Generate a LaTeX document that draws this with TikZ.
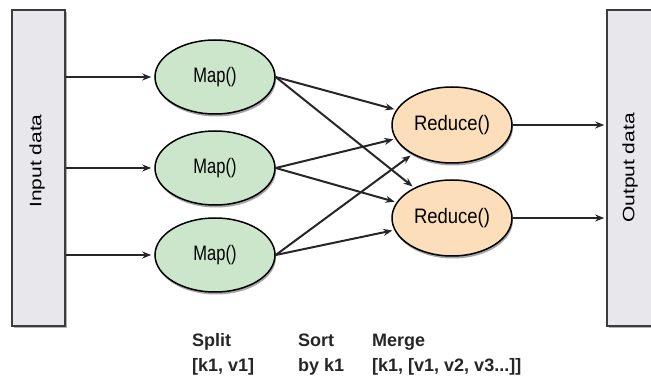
\documentclass[tikz,border=0pt]{standalone}
\usepackage{fontspec}
\setmainfont{Liberation Sans}
\usetikzlibrary{shapes.geometric,arrows.meta,shadows}
\definecolor{boxfill}{RGB}{232,232,236}
\definecolor{boxline}{RGB}{60,60,60}
\definecolor{mapfill}{RGB}{204,230,204}
\definecolor{redfill}{RGB}{253,222,186}
\tikzset{
  databox/.style={draw=boxline, line width=1.6pt, fill=boxfill,
    drop shadow={shadow xshift=2pt, shadow yshift=-2pt, fill=black!30, opacity=1}},
  mapnode/.style={ellipse, draw=black, line width=1.5pt, fill=mapfill,
    minimum width=120pt, minimum height=74pt, inner sep=0pt,
    drop shadow={shadow xshift=1pt, shadow yshift=-2.5pt, fill=black!35, opacity=1},
    font=\fontsize{16.5}{18}\selectfont},
  rednode/.style={mapnode, fill=redfill, minimum height=76pt},
  conn/.style={draw=black!85, line width=2pt, -{Stealth[length=9pt,width=7pt]}, shorten >=2pt},
  lbl/.style={anchor=base west, inner sep=0pt, font=\bfseries\fontsize{18}{20}\selectfont, text=black!85},
}
\begin{document}
\begin{tikzpicture}[x=1pt,y=-1pt]
\useasboundingbox (0,0) rectangle (651,379);
\clip (0,0) rectangle (651,379);
\fill[white] (0,0) rectangle (651,379);
% data boxes
\node[databox, minimum width=53pt, minimum height=316pt, inner sep=0pt] (in) at (38.5,168) {};
\node[databox, minimum width=53pt, minimum height=316pt, inner sep=0pt] (out) at (633.5,168) {};
\node[rotate=90, inner sep=0pt, font=\fontsize{16.5}{18}\selectfont] (intext) at (37,161) {\scalebox{1.27}[1]{Input data}};
\node[rotate=90, inner sep=0pt, font=\fontsize{16.5}{18}\selectfont] (outtext) at (630,168) {\scalebox{1.27}[1]{Output data}};
% map nodes
\node[mapnode] (m1) at (215,77) {\scalebox{1}[1.27]{Map()}};
\node[mapnode] (m2) at (215,168) {\scalebox{1}[1.27]{Map()}};
\node[mapnode] (m3) at (215,255) {\scalebox{1}[1.27]{Map()}};
% reduce nodes
\node[rednode] (r1) at (452,125) {\scalebox{1.12}[1.27]{Reduce()}};
\node[rednode] (r2) at (452,218) {\scalebox{1.12}[1.27]{Reduce()}};
% input arrows
\draw[conn, shorten >=3pt] (in.east |- m1) -- (m1.west);
\draw[conn, shorten >=3pt] (in.east |- m2) -- (m2.west);
\draw[conn, shorten >=3pt] (in.east |- m3) -- (m3.west);
% cross connectors
\foreach \m in {m1,m2,m3}{
  \foreach \r in {r1,r2}{
    \draw[conn] (\m.east) -- (\r);
  }
}
% output arrows
\draw[conn] (r1.east) -- (out.west |- r1);
\draw[conn] (r2.east) -- (out.west |- r2);
% labels
\node[lbl] (l1a) at (192,347) {Split};
\node[lbl] (l1b) at (192,372) {[k1, v1]};
\node[lbl] (l2a) at (298,347) {Sort};
\node[lbl] (l2b) at (298,372) {by k1};
\node[lbl] (l3a) at (372,347) {Merge};
\node[lbl] (l3b) at (372,372) {[k1, [v1, v2, v3...]]};
\end{tikzpicture}
\end{document}
